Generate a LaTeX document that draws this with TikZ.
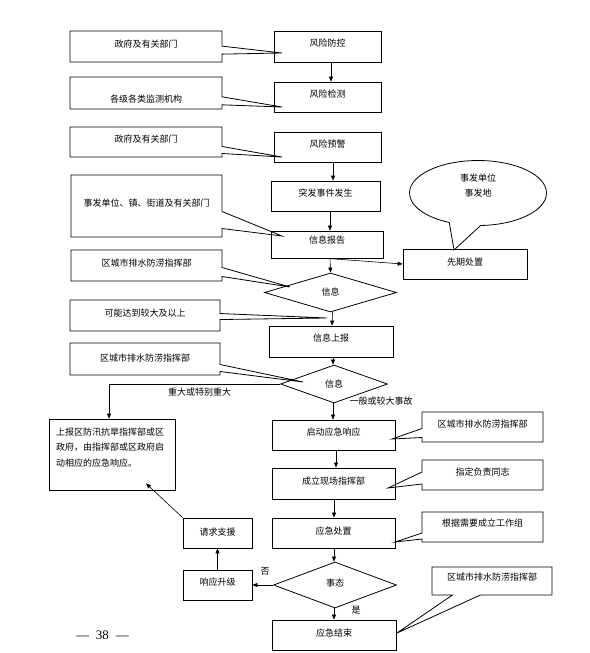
\documentclass[tikz,border=0pt]{standalone}
\usepackage{fontspec}
\setmainfont{Liberation Serif}
\newfontfamily\cjk{Noto Sans CJK SC}
\usetikzlibrary{shapes.geometric,shapes.callouts,arrows.meta}
\begin{document}
\begin{tikzpicture}[x=1pt,y=-1pt,
  font=\cjk\fontsize{9pt}{11pt}\selectfont,
  bx/.style={draw,line width=0.8pt,inner sep=0pt,text height=7.5pt,text depth=7.5pt},
  co/.style={rectangle callout,draw,line width=0.8pt,inner sep=0pt,text height=7.5pt,text depth=7.5pt},
  dm/.style={diamond,draw,line width=0.8pt,inner sep=0pt,text height=7.5pt,text depth=1.5pt},
  ar/.style={line width=0.6pt,-{Triangle[length=5pt,width=4pt]}},
  lbl/.style={inner sep=0pt,text height=7.5pt,text depth=1.5pt}
]
\useasboundingbox (0,0) rectangle (589,653);

% main chain
\node[bx,minimum width=107pt,minimum height=31pt,text depth=8.5pt] (fk) at (327.5,46.5) {风险防控};
\node[bx,minimum width=107pt,minimum height=30pt] (jc) at (327.5,97) {风险检测};
\node[bx,minimum width=107pt,minimum height=30pt] (yj) at (327.5,147) {风险预警};
\node[bx,minimum width=109pt,minimum height=30pt] (tf) at (325.5,196) {突发事件发生};
\node[bx,minimum width=112pt,minimum height=27pt,text depth=10.5pt] (xb) at (327,244.5) {信息报告};
\node[dm,minimum width=132pt,minimum height=39pt] (d1) at (330.5,292.5) {信息};
\node[bx,minimum width=124pt,minimum height=31pt,text depth=8.5pt] (xs) at (331,341.5) {信息上报};
\node[dm,minimum width=107pt,minimum height=38pt] (d2) at (334,384) {信息};
\node[bx,minimum width=123pt,minimum height=30pt] (qd) at (333.5,435) {启动应急响应};
\node[bx,minimum width=123pt,minimum height=31pt,text depth=6.5pt] (cl) at (333.5,483.5) {成立现场指挥部};
\node[bx,minimum width=123pt,minimum height=30pt,text depth=5.5pt] (cz) at (333.5,533) {应急处置};
\node[dm,minimum width=123pt,minimum height=46pt,text depth=5.5pt] (d3) at (335,585) {事态};
\node[bx,minimum width=124pt,minimum height=30pt,text depth=5.5pt] (js) at (334,635) {应急结束};

% left side
\node[bx,minimum width=69pt,minimum height=30pt,text depth=3.5pt] (qq) at (217.5,533) {请求支援};
\node[bx,minimum width=69pt,minimum height=30pt] (sj) at (217.5,585) {响应升级};
\node[draw,line width=0.8pt,inner sep=0pt,minimum width=126pt,minimum height=71pt,
      text width=112pt,align=left,font=\cjk\fontsize{9pt}{15.5pt}\selectfont] (lb) at (112,454.5)
      {上报区防汛抗旱指挥部或区\\政府，由指挥部或区政府启\\动相应的应急响应。\\~};

% right: early handling
\node[bx,minimum width=124pt,minimum height=30pt,text depth=5.5pt] (xq) at (465,264) {先期处置};
\node[ellipse callout,draw,line width=0.8pt,inner sep=0pt,minimum width=137pt,minimum height=65pt,
      callout absolute pointer={(454,250)},callout pointer arc=27,align=center,
      font=\cjk\fontsize{9pt}{15pt}\selectfont] (el) at (478,193) {事发单位\\事发地\\~};

% left callouts
\node[co,minimum width=152pt,minimum height=31pt,text depth=6.5pt,
      callout absolute pointer={(282,53)},callout pointer width=8pt] (c1) at (146,46.5) {政府及有关部门};
\node[co,minimum width=152pt,minimum height=32pt,text height=19.5pt,text depth=1.5pt,
      callout absolute pointer={(282,107)},callout pointer width=8pt] (c2) at (146,93) {各级各类监测机构};
\node[co,minimum width=152pt,minimum height=30pt,
      callout absolute pointer={(282,157)},callout pointer width=7pt] (c3) at (146,142) {政府及有关部门};
\node[co,minimum width=151pt,minimum height=62pt,
      callout absolute pointer={(282,236)},callout pointer width=17pt] (c4) at (146.5,206) {事发单位、镇、街道及有关部门};
\node[co,minimum width=151pt,minimum height=31pt,text depth=6.5pt,
      callout absolute pointer={(290,287)},callout pointer width=9pt] (c5) at (146.5,265.5) {区城市排水防涝指挥部};
\node[co,minimum width=150pt,minimum height=31pt,text depth=6.5pt,
      callout absolute pointer={(327,318)},callout pointer width=6pt] (c6) at (145,315.5) {可能达到较大及以上};
\node[co,minimum width=150pt,minimum height=32pt,text depth=3.5pt,
      callout absolute pointer={(303,382)},callout pointer width=7pt] (c7) at (145,359) {区城市排水防涝指挥部};

% right callouts
\node[co,minimum width=121pt,minimum height=30pt,
      callout absolute pointer={(392,439)},callout pointer width=9pt] (r1) at (482.5,427) {区城市排水防涝指挥部};
\node[co,minimum width=121pt,minimum height=30pt,
      callout absolute pointer={(388,488)},callout pointer width=12pt] (r2) at (482.5,475) {指定负责同志};
\node[co,minimum width=121pt,minimum height=30pt,text depth=9.5pt,
      callout absolute pointer={(395,542)},callout pointer width=6pt] (r3) at (482.5,527) {根据需要成立工作组};
\node[co,minimum width=120pt,minimum height=28pt,text depth=9.5pt,
      callout absolute pointer={(397,633)},callout pointer width=28pt] (r4) at (492,581) {区城市排水防涝指挥部};

% connectors
\draw[ar] ([xshift=3.5pt]fk.south) -- ([xshift=3.5pt]jc.north);
\draw[ar] ([xshift=5.5pt]yj.south) -- ([xshift=7.5pt]tf.north);
\draw[ar] ([xshift=4.5pt]tf.south) -- ([xshift=3pt]xb.north);
\draw[ar] ([xshift=3pt]xb.south) -- (d1.north);
\draw[ar] (xb.south) -- (xq.west);
\draw[ar] ([xshift=2pt]d1.south) -- ([xshift=1pt]xs.north);
\draw[ar] ([xshift=2pt]xs.south) -- ([xshift=-1pt]d2.north);
\draw[ar] ([xshift=-1pt]d2.south) -- ([xshift=-0.5pt]qd.north);
\draw[ar] (d2.west) -| ([xshift=-3pt]lb.north);
\draw[ar] ([xshift=2.5pt]qd.south) -- ([xshift=2.5pt]cl.north);
\draw[ar] ([xshift=0.5pt]cl.south) -- ([xshift=0.5pt]cz.north);
\draw[ar] ([xshift=0.5pt]cz.south) -- ([xshift=-1pt]d3.north);
\draw[ar] ([xshift=-1pt]d3.south) -- (js.north);
\draw[ar] (d3.west) -- (sj.east);
\draw[ar] (sj.north) -- (qq.south);
\draw[ar] (qq.north west) -- ([xshift=34pt,yshift=7pt]lb.south);

% labels
\node[lbl] (l1) at (199.5,392) {重大或特别重大};
\node[lbl] (l2) at (381,401) {一般或较大事故};
\node[lbl] (l3) at (265,571) {否};
\node[lbl] (l4) at (356,610) {是};
\node[inner sep=0pt,font=\fontsize{13pt}{15pt}\selectfont] (pg) at (102.5,635) {—\hspace{7pt}38\hspace{7pt}—};
\end{tikzpicture}
\end{document}
